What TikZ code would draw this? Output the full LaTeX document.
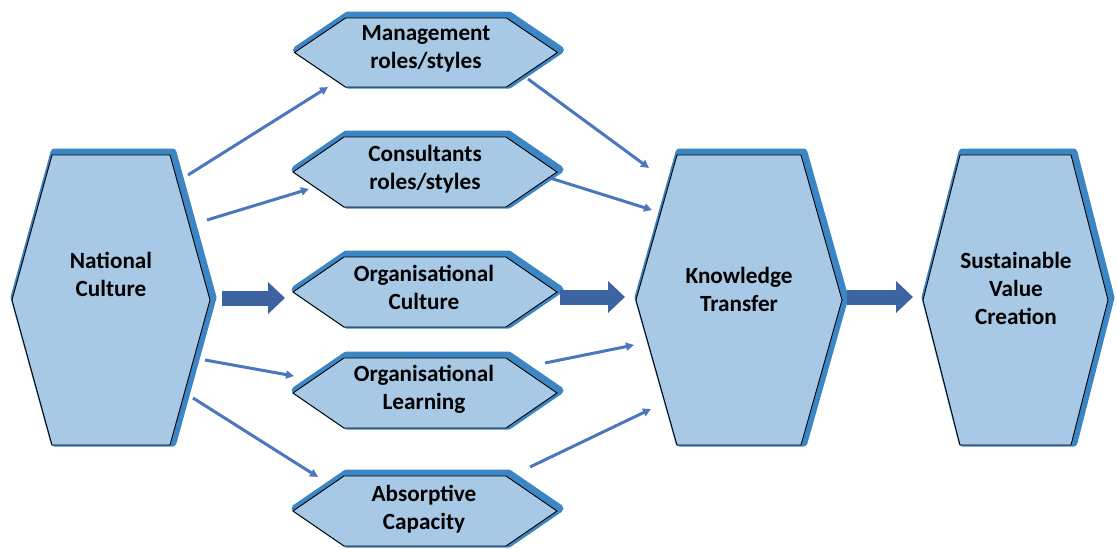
\documentclass[tikz,border=0pt]{standalone}
\usepackage{fontspec}
\setmainfont{Carlito}
\usetikzlibrary{arrows.meta}
\definecolor{rimblue}{HTML}{3D86C5}
\definecolor{bodyblue}{HTML}{A8C9E5}
\definecolor{thinblue}{HTML}{4A77BD}
\definecolor{thickblue}{HTML}{3D63A0}
\tikzset{
  hexrim/.style={draw=rimblue, fill=rimblue, line width=8pt, line join=round},
  hexbody/.style={draw=black, fill=bodyblue, line width=0.9pt, line join=miter},
  lbl/.style={align=center, font=\fontsize{23.2}{28}\selectfont\bfseries, text=black, inner sep=0pt},
  thinarr/.style={draw=thinblue, line width=3pt, -{Triangle[length=8pt,width=8pt]}},
  thickarr/.style={draw=thickblue, line width=15pt, -{Triangle[length=17pt,width=31pt]}}
}
% #1 cx, #2 cy, #3 half width, #4 half height, #5 point depth
\newcommand\myhex[5]{%
  \begin{scope}[shift={(#1,#2)}]
    \draw[hexrim, shift={(2.5,-2.5)}] (-#3,0) -- (-#3+#5,-#4) -- (#3-#5,-#4) -- (#3,0) -- (#3-#5,#4) -- (-#3+#5,#4) -- cycle;
    \draw[hexbody] (-#3,0) -- (-#3+#5,-#4) -- (#3-#5,-#4) -- (#3,0) -- (#3-#5,#4) -- (-#3+#5,#4) -- cycle;
  \end{scope}}
\begin{document}
\begin{tikzpicture}[x=1pt,y=-1pt]
\useasboundingbox (0,0) rectangle (1117,549);
% shapes
\myhex{111}{300}{99}{145}{40}
\myhex{739}{300}{103}{145}{41}
\myhex{1015.5}{300}{92.5}{145}{37}
\myhex{426}{52.5}{131.5}{34.5}{51}
\myhex{425}{172}{132}{35}{51}
\myhex{425}{292}{132}{35}{51}
\myhex{425}{393}{132}{35}{51}
\myhex{425}{511}{132}{35}{51}
% labels
\node[lbl] (nc) at (111,274) {National\\Culture};
\node[lbl] (kt) at (739,289) {Knowledge\\Transfer};
\node[lbl] (svc) at (1016,288) {Sustainable\\Value\\Creation};
\node[lbl] (mg) at (426,49) {Management\\roles/styles};
\node[lbl] (cs) at (425,169) {Consultants\\roles/styles};
\node[lbl] (oc) at (424,287) {Organisational\\Culture};
\node[lbl] (ol) at (424,389) {Organisational\\Learning};
\node[lbl] (ac) at (424,509) {Absorptive\\Capacity};
% connector end points
\coordinate (nc-mg) at (188,175);
\coordinate (mg-in) at (328,87);
\coordinate (nc-cs) at (207,220);
\coordinate (cs-in) at (309,189);
\coordinate (nc-ol) at (205,360);
\coordinate (ol-in) at (294,376);
\coordinate (nc-ac) at (193,398);
\coordinate (ac-in) at (318,477);
\coordinate (mg-kt) at (528,79);
\coordinate (kt-mg) at (649,168);
\coordinate (cs-kt) at (550,178);
\coordinate (kt-cs) at (652,210);
\coordinate (ol-kt) at (545,363);
\coordinate (kt-ol) at (634,345);
\coordinate (ac-kt) at (530,467);
\coordinate (kt-ac) at (651,409);
\coordinate (nc-oc) at (222,298);
\coordinate (oc-in) at (285,298);
\coordinate (oc-kt) at (560,297);
\coordinate (kt-oc) at (625,297);
\coordinate (kt-svc) at (847,297);
\coordinate (svc-in) at (913,297);
% connectors
\draw[thinarr] (nc-mg) -- (mg-in);
\draw[thinarr] (nc-cs) -- (cs-in);
\draw[thinarr] (nc-ol) -- (ol-in);
\draw[thinarr] (nc-ac) -- (ac-in);
\draw[thinarr] (mg-kt) -- (kt-mg);
\draw[thinarr] (cs-kt) -- (kt-cs);
\draw[thinarr] (ol-kt) -- (kt-ol);
\draw[thinarr] (ac-kt) -- (kt-ac);
\draw[thickarr] (nc-oc) -- (oc-in);
\draw[thickarr] (oc-kt) -- (kt-oc);
\draw[thickarr] (kt-svc) -- (svc-in);
\end{tikzpicture}
\end{document}
